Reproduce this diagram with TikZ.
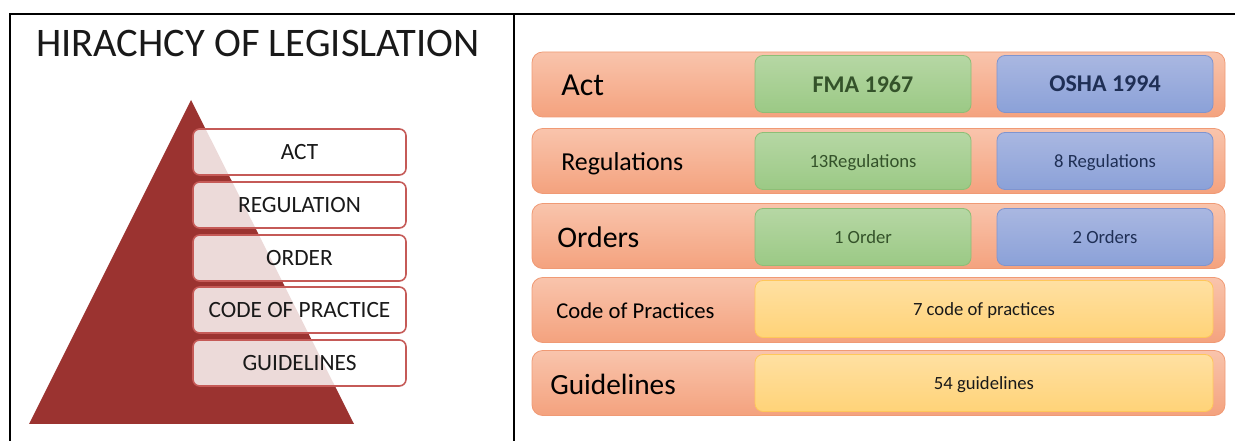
\documentclass[tikz,border=0pt]{standalone}
\usepackage{fontspec}
\setmainfont{Carlito}
\definecolor{pyr}{HTML}{9B3330}
\definecolor{pbord}{HTML}{C55A57}
\definecolor{orT}{HTML}{F9C4AC}
\definecolor{orB}{HTML}{F4A27E}
\definecolor{orD}{HTML}{F09A75}
\definecolor{grT}{HTML}{B6D7A4}
\definecolor{grB}{HTML}{9BC985}
\definecolor{grD}{HTML}{8DBE76}
\definecolor{blT}{HTML}{A9B7E1}
\definecolor{blB}{HTML}{8BA1D8}
\definecolor{blD}{HTML}{7F94CF}
\definecolor{yeT}{HTML}{FFE0A2}
\definecolor{yeB}{HTML}{FFD378}
\definecolor{yeD}{HTML}{FFC75A}
\definecolor{grtxt}{HTML}{34522A}
\definecolor{bltxt}{HTML}{1F2F55}
\tikzset{
  frame/.style={line width=1.4pt, black},
  levelbox/.style={draw=pbord, line width=1.2pt, fill=white, fill opacity=0.82, text opacity=1,
    rounded corners=5pt, minimum width=159.75pt, minimum height=34.5pt, inner sep=0pt,
    font=\fontsize{17.5}{20}\selectfont, text=black!90},
  bar/.style={draw=orD, line width=0.6pt, top color=orT, bottom color=orB, rounded corners=8pt,
    minimum width=519.75pt, minimum height=48.75pt, inner sep=0pt},
  inbox/.style={line width=0.6pt, rounded corners=6pt, minimum height=42.75pt, inner sep=0pt},
  grbox/.style={inbox, draw=grD, top color=grT, bottom color=grB, minimum width=162pt, text=grtxt},
  blbox/.style={inbox, draw=blD, top color=blT, bottom color=blB, minimum width=162pt, text=bltxt},
  yebox/.style={inbox, draw=yeD, top color=yeT, bottom color=yeB, minimum width=343.5pt, text=black!90},
  small/.style={font=\fontsize{14}{16}\selectfont},
  bigb/.style={font=\fontsize{18}{20}\selectfont\bfseries},
  rowlabel/.style={anchor=west, inner sep=0pt, text=black}
}
\begin{document}
\begin{tikzpicture}[x=0.75pt, y=-0.75pt]
\useasboundingbox (0,0) rectangle (1235,441);
% table frame
\coordinate (tl) at (10,14);
\coordinate (tr) at (1235,14);
\coordinate (bl) at (10,441);
\coordinate (dt) at (514,14);
\coordinate (db) at (514,441);
\draw[frame] (bl) -- (tl) -- (tr);
\draw[frame] (dt) -- (db);

% left panel
\node[anchor=base west, inner sep=0pt, font=\fontsize{30.4}{32}\selectfont, text=black!90] (title) at (36,57) {HIRACHCY OF LEGISLATION};
\fill[pyr] (191,100) -- (354,424) -- (29,424) -- cycle;
\node[levelbox] (act) at (299.5,152) {ACT};
\node[levelbox] (reg) at (299.5,205) {REGULATION};
\node[levelbox] (ord) at (299.5,258) {ORDER};
\node[levelbox] (cop) at (299.5,310) {CODE OF PRACTICE};
\node[levelbox] (gui) at (299.5,363) {GUIDELINES};

% right panel
\node[bar] (b1) at (878.5,84.5) {};
\node[bar] (b2) at (878.5,161) {};
\node[bar] (b3) at (878.5,236) {};
\node[bar] (b4) at (878.5,310) {};
\node[bar] (b5) at (878.5,383) {};

\node[rowlabel, font=\fontsize{24}{26}\selectfont] (l1) at (561,85) {Act};
\node[rowlabel, font=\fontsize{19.4}{22}\selectfont] (l2) at (561,164) {Regulations};
\node[rowlabel, font=\fontsize{22.4}{24}\selectfont] (l3) at (557,237) {Orders};
\node[rowlabel, font=\fontsize{17}{20}\selectfont] (l4) at (556,311) {Code of Practices};
\node[rowlabel, font=\fontsize{22}{24}\selectfont] (l5) at (550,384) {Guidelines};

\node[grbox, bigb] (fma) at (863,84) {FMA 1967};
\node[blbox, bigb] (osha) at (1105,84) {OSHA 1994};
\node[grbox, small, text depth=0pt] (fr) at (863,161) {13Regulations};
\node[blbox, small, text depth=0pt] (or) at (1105,161) {8 Regulations};
\node[grbox, small, text depth=0pt] (fo) at (863,237) {1 Order};
\node[blbox, small, text depth=0pt] (oo) at (1105,237) {2 Orders};
\node[yebox, small, text depth=0pt] (cp) at (984,309) {7 code of practices};
\node[yebox, small, text depth=0pt] (gl) at (984,383) {54 guidelines};
\end{tikzpicture}
\end{document}
